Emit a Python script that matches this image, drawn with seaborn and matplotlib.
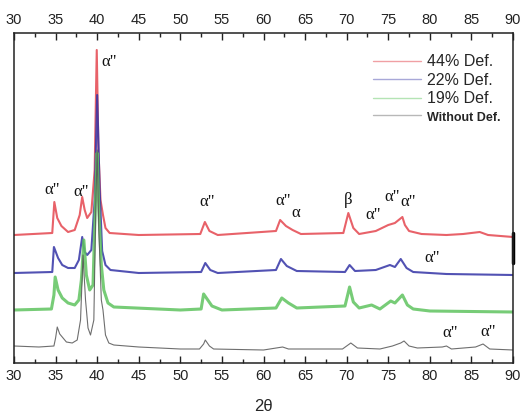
import matplotlib
matplotlib.use("Agg")
import matplotlib.pyplot as plt
from matplotlib.lines import Line2D
from matplotlib.ticker import MultipleLocator
import seaborn as sns
import pandas as pd

# XRD patterns (2theta, intensity in arbitrary units above each trace's base line)
tt_none = [30, 33, 34.8, 35.0, 35.2, 35.5, 35.9, 36.3, 37.0, 37.6, 38.0, 38.3, 38.6, 38.9,
           39.2, 39.6, 39.85, 40.0, 40.2, 40.5, 40.7, 41.0, 41.4, 42, 45, 50, 52.3, 52.8,
           53.0, 53.5, 54, 60, 62.3, 63, 69.5, 70.5, 71.3, 74, 75.5, 76.5, 76.9, 77.5, 78.5,
           81.5, 82.0, 82.6, 85.5, 86.4, 87.2, 90]
i_none = [5, 4, 5, 13, 24, 17, 13, 9, 8, 11, 31, 96, 51, 23,
          16, 31, 151, 201, 121, 51, 41, 16, 8, 6, 4, 2, 2, 7,
          11, 5, 2, 1, 4, 2, 2, 8, 3, 2, 5, 8, 10, 5, 3,
          4, 5, 2, 4, 7, 2, 1]

tt_19 = [30, 34.5, 34.8, 34.95, 35.3, 35.8, 36.5, 37.3, 37.8, 38.1, 38.4, 38.7, 39.1, 39.5,
         39.8, 40.0, 40.2, 40.5, 40.8, 41.3, 42, 50, 52.5, 52.8, 53.3, 53.8, 55, 61.5, 62.2,
         63.0, 64, 69.8, 70.35, 70.8, 71.5, 73.0, 74.0, 75.3, 75.8, 76.7, 77.3, 78, 80, 90]
i_19 = [3, 4, 18, 36, 23, 15, 10, 8, 13, 33, 73, 38, 23, 28,
        113, 160, 103, 48, 23, 10, 6, 3, 4, 19, 13, 7, 3, 5, 15,
        10, 5, 7, 26, 11, 5, 8, 4, 12, 10, 18, 8, 4, 2, 1]

tt_22 = [30, 34.6, 34.8, 35.3, 35.8, 36.5, 37.3, 37.8, 38.2, 38.5, 38.8, 39.3, 39.7, 40.0,
         40.3, 40.6, 41.0, 41.6, 45, 52.5, 53.0, 53.6, 54.5, 61.5, 62.1, 62.8, 64, 69.8,
         70.35, 71.0, 73.5, 75.2, 75.8, 76.5, 77.2, 78.0, 82, 90]
i_22 = [3, 4, 29, 18, 11, 8, 8, 16, 39, 24, 21, 26, 76, 181,
        86, 25, 11, 6, 3, 4, 13, 6, 3, 6, 17, 10, 5, 4,
        11, 5, 6, 11, 9, 17, 8, 4, 2, 1]

tt_44 = [30, 34.6, 34.85, 35.2, 35.7, 36.5, 37.3, 37.9, 38.2, 38.5, 38.8, 39.3, 39.7, 39.95,
         40.15, 40.4, 40.7, 41.0, 41.5, 45, 52.4, 52.95, 53.5, 54.5, 61.5, 62.0, 62.7, 63.5,
         64.5, 69.6, 70.2, 70.8, 71.5, 73.5, 75.0, 75.8, 76.7, 77.0, 77.5, 79, 82, 84, 86,
         87, 90]
i_44 = [3, 5, 36, 20, 12, 6, 8, 23, 41, 28, 20, 26, 68, 188,
        88, 38, 23, 10, 5, 3, 4, 16, 7, 3, 7, 18, 12, 8,
        4, 5, 25, 10, 4, 7, 13, 15, 21, 13, 7, 4, 3, 4, 6,
        3, 1]

labels = ["44% Def.", "22% Def.", "19% Def.", "Without Def."]
colors = ["#e4464f", "#3434a6", "#5fc35f", "#555555"]
legend_colors = ["#f0a0a4", "#a8a8d8", "#b4e4b4", "#b8b8b8"]
offsets = [125, 87, 50, 12]
widths = [1.5, 1.5, 2.2, 0.8]
series = [(tt_44, i_44), (tt_22, i_22), (tt_19, i_19), (tt_none, i_none)]

# phase labels: (text, 2theta, height on the stacked axis)
peak_text = ['α"', 'α"', 'α"', 'α"', 'α"', 'α', 'β', 'α"', 'α"', 'α"', 'α"', 'α"', 'α"']
peak_tt = [41.4, 34.6, 38.1, 53.2, 62.4, 63.9, 70.2, 73.2, 75.5, 77.4, 80.3, 82.4, 87.0]
peak_y = [301, 173, 171, 161, 162, 150, 163, 148, 166, 161, 105, 30, 31]

sns.set_theme(style="white")
plt.rcParams["font.family"] = ["Liberation Sans", "DejaVu Sans"]

fig = plt.figure(figsize=(5.22, 4.16), dpi=100)
ax = fig.add_axes([14 / 522, 53 / 416, 499 / 522, 330 / 416])

for (tt, inten), lab, col, off, lw in zip(series, labels, colors, offsets, widths):
    df = pd.DataFrame({"2theta": tt, "I": [v + off for v in inten]})
    sns.lineplot(data=df, x="2theta", y="I", ax=ax, color=col, lw=lw,
                 sort=False, estimator=None, alpha=0.85, legend=False)

for txt, x, y in zip(peak_text, peak_tt, peak_y):
    ax.text(x, y, txt, ha="center", va="center", fontsize=12,
            family=["Liberation Serif", "DejaVu Serif"], color="#111111")

ax.set_xlim(30, 90)
ax.set_ylim(0, 330)
ax.set_yticks([])
ax.set_ylabel("")
ax.set_xlabel("2θ", fontsize=12, labelpad=12)
ax.xaxis.set_major_locator(MultipleLocator(5))
ax.xaxis.set_minor_locator(MultipleLocator(2.5))
ax.tick_params(axis="x", which="both", direction="in", top=True, bottom=True,
               labeltop=True, labelbottom=True, labelsize=10.5, colors="#222222",
               width=1.0)
ax.tick_params(axis="x", which="major", length=5, pad=4)
ax.tick_params(axis="x", which="minor", length=3)
for sp in ax.spines.values():
    sp.set_color("#222222")
    sp.set_linewidth(1.1)

# thick mark on the right frame
ax.axvline(90, ymin=100 / 330, ymax=130 / 330, color="black", lw=2.5, clip_on=False)

handles = [Line2D([], [], color=c, lw=1.0) for c in legend_colors]
leg = ax.legend(handles, labels, loc="upper right", bbox_to_anchor=(0.995, 0.965),
                frameon=False, fontsize=11.5, handlelength=3.0, handletextpad=0.4,
                labelspacing=0.22, borderaxespad=0.2)
last = leg.get_texts()[-1]
last.set_fontweight("bold")
last.set_fontsize(9)
last.set_family(["Liberation Sans Narrow", "Liberation Sans", "DejaVu Sans"])

fig.savefig("out.png", dpi=100)
